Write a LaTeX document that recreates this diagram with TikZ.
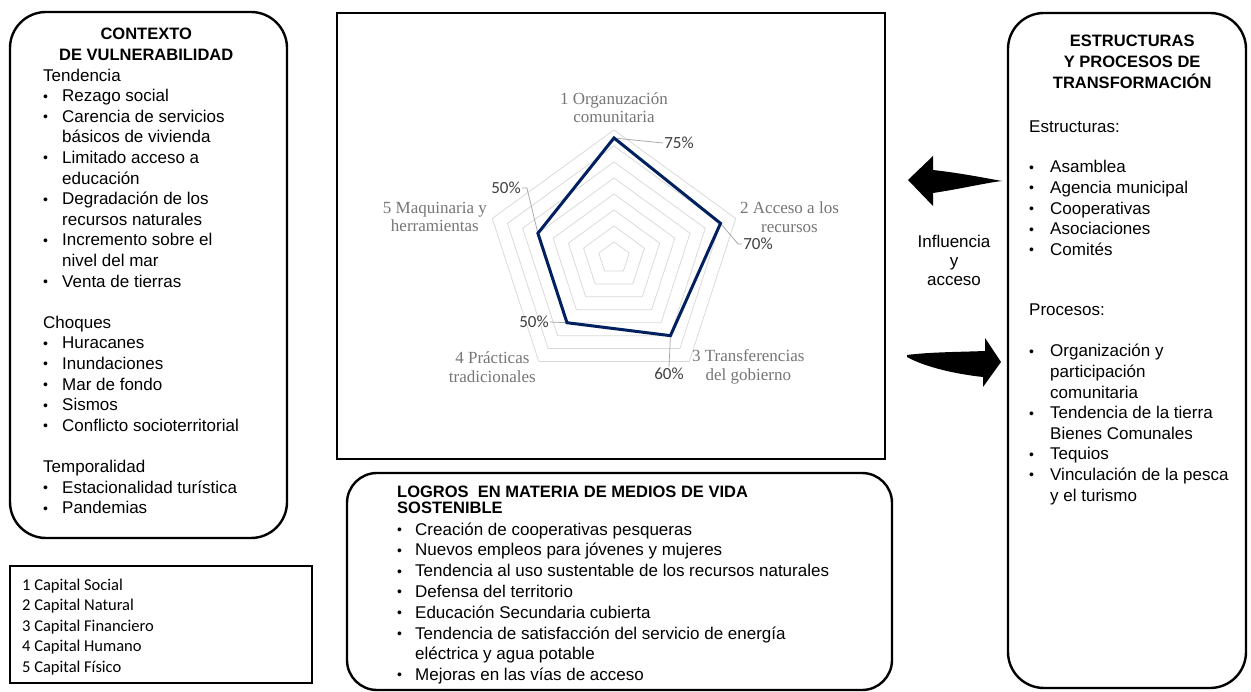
\documentclass[tikz,border=0pt]{standalone}
\usepackage{fontspec}
\setmainfont{Liberation Sans}
\newfontfamily\chartserif{Liberation Serif}
\newfontfamily\calibfont{Carlito}
\usetikzlibrary{calc}
\definecolor{navyline}{RGB}{0,32,96}
\definecolor{gridgray}{RGB}{217,217,217}
\definecolor{labgray}{RGB}{118,118,118}
\definecolor{pctgray}{RGB}{64,64,64}
\definecolor{leadgray}{RGB}{166,166,166}
\newcommand{\blt}[2]{\makebox[#1][l]{\raisebox{0.6pt}{\fontsize{14}{14}\selectfont\textbullet}}#2}
\newcommand{\cnt}[2]{\hspace*{#1}#2}
\begin{document}
\begin{tikzpicture}[x=1pt,y=-1pt,
  boxline/.style={draw=black,line width=2.4pt,fill=white,inner sep=0pt},
  roundbox/.style={boxline,rounded corners=#1},
  bodytext/.style={anchor=base west,inner sep=0pt,font=\fontsize{17}{20.6}\selectfont},
  chartlab/.style={inner sep=0pt,align=center,text=labgray,font=\chartserif\fontsize{17}{18.5}\selectfont},
  pctlab/.style={inner sep=1pt,text=pctgray,font=\calibfont\fontsize{17}{20}\selectfont},
  leader/.style={draw=leadgray,line width=0.75pt},
  ring/.style={draw=gridgray,line width=0.75pt},
  dataline/.style={draw=navyline,line width=3pt,line join=miter}]
\useasboundingbox (0,0) rectangle (1251,692);

% ---------- left box ----------
\node[roundbox=36pt,minimum width=277pt,minimum height=526pt] (ctx) at (148.5,275) {};
\node[bodytext] (ctxtext) at (43,40) {\parbox[t]{400pt}{\fontsize{17}{20.6}\selectfont
\makebox[206pt]{\fontsize{16.5}{20.6}\selectfont\bfseries CONTEXTO}\\
\makebox[206pt]{\fontsize{16.5}{20.6}\selectfont\bfseries DE VULNERABILIDAD}\\
Tendencia\\
\blt{19pt}{Rezago social}\\
\blt{19pt}{Carencia de servicios}\\
\cnt{19pt}{básicos de vivienda}\\
\blt{19pt}{Limitado acceso a}\\
\cnt{19pt}{educación}\\
\blt{19pt}{Degradación de los}\\
\cnt{19pt}{recursos naturales}\\
\blt{19pt}{Incremento sobre el}\\
\cnt{19pt}{nivel del mar}\\
\blt{19pt}{Venta de tierras}\\[20.6pt]
Choques\\
\blt{19pt}{Huracanes}\\
\blt{19pt}{Inundaciones}\\
\blt{19pt}{Mar de fondo}\\
\blt{19pt}{Sismos}\\
\blt{19pt}{Conflicto socioterritorial}\\[20.6pt]
Temporalidad\\
\blt{19pt}{Estacionalidad turística}\\
\blt{19pt}{Pandemias}}};

% ---------- legend ----------
\node[boxline,line width=2.2pt,minimum width=302pt,minimum height=117pt] (legend) at (161,624.5) {};
\node[anchor=base west,inner sep=0pt] (legtext) at (22,590) {\parbox[t]{280pt}{\calibfont\fontsize{16.5}{20.6}\selectfont
1 Capital Social\\2 Capital Natural\\3 Capital Financiero\\4 Capital Humano\\5 Capital Físico}};

% ---------- chart ----------
\node[boxline,line width=2.2pt,minimum width=548pt,minimum height=446pt] (chartbox) at (611,236) {};
\coordinate (c) at (614,258);
\begin{scope}[shift={(c)},yscale=-1]
  \foreach \k in {1,...,8}{
    \draw[ring] (90:{16*\k}) -- (18:{16*\k}) -- (-54:{16*\k}) -- (-126:{16*\k}) -- (162:{16*\k}) -- cycle;}
  \coordinate (p1) at (90:120);
  \coordinate (p2) at (18:112);
  \coordinate (p3) at (-54:96);
  \coordinate (p4) at (-126:80);
  \coordinate (p5) at (162:80);
\end{scope}
\node[chartlab,anchor=south] (l1) at (614,123) {1 Organuzación\\comunitaria};
\node[chartlab,anchor=west] (l2) at (740,217) {2 Acceso a los\\recursos};
\node[chartlab,anchor=west] (l3) at (692,367) {3 Transferencias\\del gobierno};
\node[chartlab,anchor=east] (l4) at (536,367) {4 Prácticas\\tradicionales};
\node[chartlab,anchor=east] (l5) at (487,217) {5 Maquinaria y\\herramientas};
\node[pctlab] (q1) at (679,143) {75\%};
\node[pctlab] (q2) at (758,244) {70\%};
\node[pctlab] (q3) at (669,374) {60\%};
\node[pctlab] (q4) at (534,322) {50\%};
\node[pctlab] (q5) at (506,188) {50\%};
\draw[leader] (p1) -- (q1.west);
\draw[leader] (p2) -- ($(q2.west)+(-4,0)$) -- (q2.west);
\draw[leader] (p3) -- (q3.north);
\draw[leader] (p4) -- (q4.east);
\draw[leader] (q5.east) -- ++(5,0) -- (p5);
\draw[dataline] (p1) -- (p2) -- (p3) -- (p4) -- (p5) -- cycle;

% ---------- logros ----------
\node[roundbox=30pt,minimum width=545pt,minimum height=217pt] (logros) at (619.5,581.5) {};
\node[bodytext] (logtext) at (397,497) {\parbox[t]{480pt}{\fontsize{17}{20.8}\selectfont
{\fontsize{16.5}{20.8}\selectfont\bfseries LOGROS~~EN MATERIA DE MEDIOS DE VIDA}\\[-3.8pt]
{\fontsize{16.5}{20.8}\selectfont\bfseries SOSTENIBLE}\\[0.2pt]
\blt{18pt}{Creación de cooperativas pesqueras}\\
\blt{18pt}{Nuevos empleos para jóvenes y mujeres}\\
\blt{18pt}{Tendencia al uso sustentable de los recursos naturales}\\
\blt{18pt}{Defensa del territorio}\\
\blt{18pt}{Educación Secundaria cubierta}\\
\blt{18pt}{Tendencia de satisfacción del servicio de energía}\\
\cnt{18pt}{eléctrica y agua potable}\\
\blt{18pt}{Mejoras en las vías de acceso}}};

% ---------- right box ----------
\node[roundbox=36pt,minimum width=238pt,minimum height=675pt] (est) at (1127,350.5) {};
\node[bodytext] (esttext) at (1029,47) {\parbox[t]{300pt}{\fontsize{17}{20.6}\selectfont
\makebox[206pt]{\fontsize{16.5}{20.6}\selectfont\bfseries ESTRUCTURAS}\\
\makebox[206pt]{\fontsize{16.5}{20.6}\selectfont\bfseries Y PROCESOS DE}\\
\makebox[206pt]{\fontsize{16.5}{20.6}\selectfont\bfseries TRANSFORMACIÓN}\\[24.2pt]
Estructuras:\\[19.4pt]
\blt{21pt}{Asamblea}\\
\blt{21pt}{Agencia municipal}\\
\blt{21pt}{Cooperativas}\\
\blt{21pt}{Asociaciones}\\
\blt{21pt}{Comités}\\[40pt]
Procesos:\\[20.4pt]
\blt{21pt}{Organización y}\\
\cnt{21pt}{participación}\\
\cnt{21pt}{comunitaria}\\
\blt{21pt}{Tendencia de la tierra}\\
\cnt{21pt}{Bienes Comunales}\\
\blt{21pt}{Tequios}\\
\blt{21pt}{Vinculación de la pesca}\\
\cnt{21pt}{y el turismo}}};

% ---------- arrows and middle text ----------
\fill[black] (908,180) -- (933,156) -- (933,170)
  .. controls (960,173) and (985,178) .. (1002,181)
  .. controls (985,183) and (960,189) .. (933,193) -- (933,206) -- cycle;
\fill[black] (907,355) .. controls (930,352) and (960,352) .. (985,351)
  -- (985,338) -- (1001,362) -- (983,387) -- (983,377)
  .. controls (955,374) and (925,367) .. (907,357) -- cycle;
\node[align=center,inner sep=0pt,font=\fontsize{17}{19}\selectfont] (infl) at (954,260) {Influencia\\y\\acceso};
\end{tikzpicture}
\end{document}
